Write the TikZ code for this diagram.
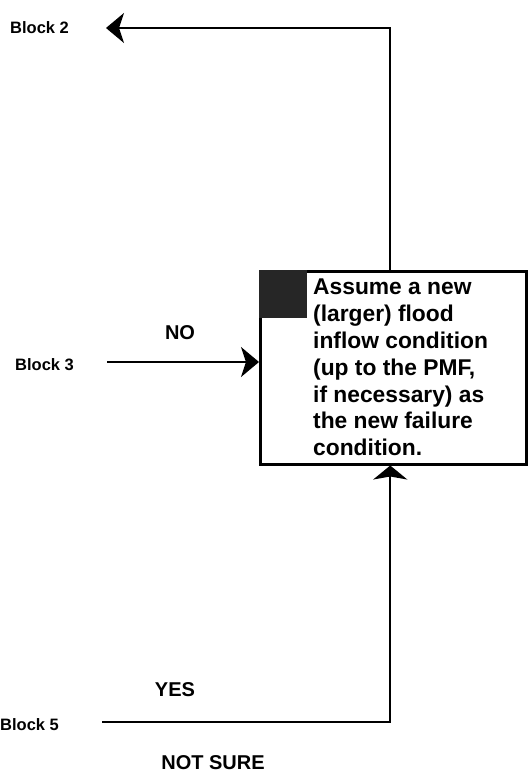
\documentclass[tikz,border=0pt]{standalone}
\usepackage{fontspec}
\setmainfont{Liberation Sans}
\usetikzlibrary{arrows.meta}
\tikzset{
  blocklabel/.style={font=\fontsize{16.5}{19}\selectfont\bfseries, inner sep=0pt, anchor=west},
  answer/.style={font=\fontsize{20}{24}\selectfont\bfseries, inner sep=0pt},
  conn/.style={line width=2pt},
  bigarrow/.style={conn, -{Stealth[length=18pt,width=30pt,inset=5pt]}},
  flatarrow/.style={conn, -{Stealth[length=14pt,width=34pt,inset=3pt]}},
  mainbox/.style={draw, line width=2.5pt, minimum width=266pt, minimum height=193pt, anchor=north west, inner sep=0pt},
  darksq/.style={fill=black!85, minimum width=48pt, minimum height=48pt, anchor=north west, inner sep=0pt},
  boxtext/.style={font=\fontsize{22.8}{26.8}\selectfont\bfseries, align=left, anchor=north west, inner sep=0pt}
}
\begin{document}
\begin{tikzpicture}[x=1pt,y=-1pt]
\useasboundingbox (0,0) rectangle (527,775);
% main box
\node[mainbox] (box) at (259,270) {};
\node[darksq] (sq) at (259,270) {};
\node[boxtext] (txt) at (313,279) {Assume a new\\(larger) flood\\inflow condition\\(up to the PMF,\\if necessary) as\\the new failure\\condition.};
% labels
\node[blocklabel] (b2) at (10,28) {Block 2};
\node[blocklabel] (b3) at (15,365) {Block 3};
\node[blocklabel] (b5) at (0,725) {Block 5};
\node[answer] (no) at (180,333) {NO};
\node[answer] (yes) at (175,690) {YES};
\node[answer] (ns) at (213,763) {NOT SURE};
% connectors
\coordinate (top) at ([xshift=-3pt]box.north);
\coordinate (b2tip) at (106,28);
\draw[bigarrow] (top) |- (b2tip);
\coordinate (b3s) at (107,362);
\draw[bigarrow] (b3s) -- (b3s -| box.west);
\coordinate (b5s) at (102,722);
\coordinate (bot) at ([xshift=-3pt]box.south);
\draw[flatarrow] (b5s) -| (bot);
\end{tikzpicture}
\end{document}
